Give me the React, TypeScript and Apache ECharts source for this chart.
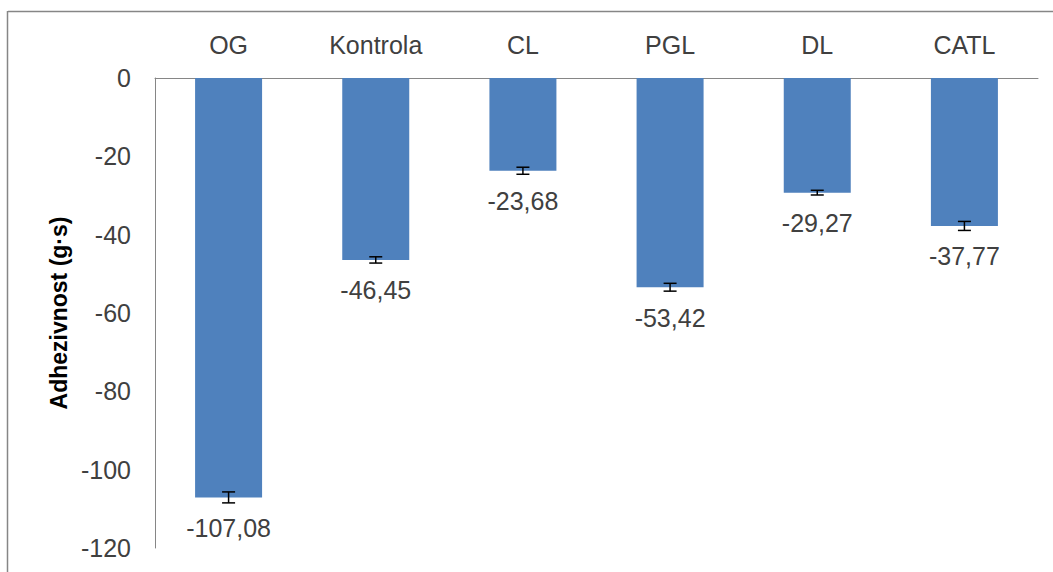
import React, { useEffect, useRef } from "react";
import * as echarts from "echarts";

const categories = ["OG", "Kontrola", "CL", "PGL", "DL", "CATL"];
const values = [-107.08, -46.45, -23.68, -53.42, -29.27, -37.77];
const errors = [1.4, 0.8, 0.9, 1.0, 0.6, 1.15];
const yTicks = { min: -120, max: 0, interval: 20 };
const yName = "Adhezivnost (g·s)";

const TEXT = "#404040";
const AXIS = "#868686";
const FONT = "Liberation Sans";

export default function App() {
  const ref = useRef<HTMLDivElement>(null);
  useEffect(() => {
    if (!ref.current) return;
    const chart = echarts.init(ref.current, undefined, { renderer: "svg" });
    const errData = values.map((v, i) => [i, v - errors[i], v + errors[i]]);
    chart.setOption({
      animation: false,
      backgroundColor: "#ffffff",
      grid: { left: 155, right: 15, top: 78, bottom: 24, containLabel: false },
      graphic: [
        { type: "line", shape: { x1: 8, y1: 11.5, x2: 1060, y2: 11.5 }, style: { stroke: AXIS, lineWidth: 1.5 } },
        { type: "line", shape: { x1: 7.5, y1: 11, x2: 7.5, y2: 580 }, style: { stroke: AXIS, lineWidth: 1.5 } },
      ],
      xAxis: {
        type: "category",
        data: categories,
        position: "top",
        axisLine: { show: true, lineStyle: { color: AXIS, width: 1 } },
        axisTick: { show: false },
        axisLabel: { color: TEXT, fontFamily: FONT, fontSize: 25, margin: 21 },
      },
      yAxis: {
        type: "value",
        min: yTicks.min,
        max: yTicks.max,
        interval: yTicks.interval,
        name: yName,
        nameLocation: "middle",
        nameGap: 84,
        nameRotate: 90,
        nameTextStyle: { color: "#000000", fontFamily: FONT, fontSize: 23, fontWeight: "bold" },
        axisLine: { show: true, lineStyle: { color: AXIS, width: 1 } },
        axisTick: { show: false },
        splitLine: { show: false },
        axisLabel: { color: TEXT, fontFamily: FONT, fontSize: 25, margin: 24 },
      },
      series: [
        {
          type: "bar",
          data: values,
          barWidth: 67,
          itemStyle: { color: "#4F81BD" },
          label: {
            show: true,
            position: "bottom",
            distance: 18,
            color: TEXT,
            fontFamily: FONT,
            fontSize: 25,
            formatter: (p: any) => Number(p.value).toFixed(2).replace(".", ","),
          },
        },
        {
          type: "custom",
          data: errData,
          encode: { x: 0, y: [1, 2] },
          z: 10,
          renderItem: (params: any, api: any) => {
            const i = api.value(0);
            const lo = api.coord([i, api.value(1)]);
            const hi = api.coord([i, api.value(2)]);
            const hw = 6.5;
            const style = { stroke: "#000000", lineWidth: 1.5 };
            return {
              type: "group",
              children: [
                { type: "line", shape: { x1: lo[0], y1: lo[1], x2: hi[0], y2: hi[1] }, style },
                { type: "line", shape: { x1: lo[0] - hw, y1: lo[1], x2: lo[0] + hw, y2: lo[1] }, style },
                { type: "line", shape: { x1: hi[0] - hw, y1: hi[1], x2: hi[0] + hw, y2: hi[1] }, style },
              ],
            };
          },
        },
      ],
    });
    return () => chart.dispose();
  }, []);
  return (
    <div
      ref={ref}
      style={{ position: "absolute", left: 0, top: 0, width: 1053, height: 572, background: "#fff" }}
    />
  );
}
